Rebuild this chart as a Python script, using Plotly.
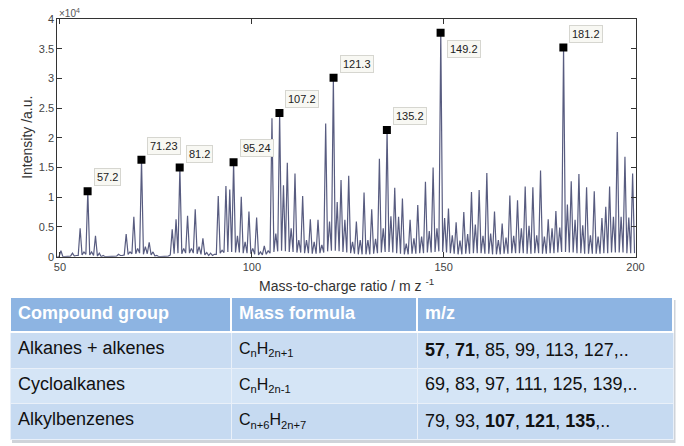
import plotly.graph_objects as go

W, H = 684, 446

# ---------------- spectrum data (intensity in units of 1e4 counts) ----------------
nominal_mz = list(range(49, 200))
peak_intensity = [
    0.00, 0.10, 0.00, 0.00, 0.06, 0.02, 0.48, 0.08, 1.10, 0.08,
    0.35, 0.06, 0.02, 0.00, 0.00, 0.01, 0.04, 0.02, 0.38, 0.08,
    0.67, 0.14, 1.63, 0.17, 0.24, 0.08, 0.02, 0.00, 0.00, 0.01,
    0.46, 0.63, 1.50, 0.14, 0.69, 0.14, 0.80, 0.17, 0.31, 0.07,
    0.06, 0.04, 1.02, 0.11, 1.19, 1.13, 1.59, 0.35, 1.01, 0.25,
    0.76, 0.14, 0.66, 0.08, 0.18, 0.10, 2.33, 0.39, 2.42, 1.20,
    1.58, 0.48, 1.40, 0.28, 1.02, 0.28, 0.63, 0.25, 0.62, 0.20,
    2.24, 0.59, 3.01, 0.92, 1.29, 0.62, 1.36, 0.25, 0.59, 0.28,
    1.08, 0.28, 0.80, 0.30, 1.65, 0.48, 2.13, 0.68, 1.16, 0.67,
    0.98, 0.22, 0.62, 0.31, 0.87, 0.34, 1.26, 0.43, 1.50, 0.48,
    3.77, 0.65, 0.81, 0.36, 0.58, 0.27, 0.75, 0.38, 1.09, 0.54,
    1.12, 0.35, 1.41, 0.39, 0.76, 0.28, 0.56, 0.32, 1.03, 0.35,
    0.95, 0.48, 1.18, 0.52, 1.17, 0.36, 1.45, 0.34, 0.63, 0.48,
    0.77, 0.49, 3.52, 0.88, 1.27, 0.62, 1.39, 0.53, 1.17, 0.36,
    1.10, 0.34, 0.65, 0.84, 1.18, 0.67, 2.10, 0.67, 1.68, 0.66,
    1.40,
]
valley_intensity = [
    0.00, 0.00, 0.00, 0.01, 0.01, 0.02, 0.03, 0.04, 0.03, 0.02,
    0.01, 0.00, 0.00, 0.00, 0.01, 0.01, 0.02, 0.03, 0.04, 0.05,
    0.05, 0.06, 0.04, 0.05, 0.03, 0.01, 0.00, 0.00, 0.01, 0.03,
    0.05, 0.06, 0.05, 0.06, 0.06, 0.06, 0.05, 0.04, 0.03, 0.02,
    0.02, 0.04, 0.06, 0.07, 0.08, 0.08, 0.07, 0.07, 0.06, 0.06,
    0.05, 0.04, 0.03, 0.03, 0.04, 0.06, 0.08, 0.09, 0.10, 0.09,
    0.08, 0.08, 0.07, 0.07, 0.06, 0.06, 0.05, 0.05, 0.06, 0.07,
    0.09, 0.10, 0.10, 0.09, 0.08, 0.07, 0.06, 0.05, 0.04, 0.04,
    0.04, 0.04, 0.05, 0.06, 0.07, 0.08, 0.08, 0.07, 0.06, 0.05,
    0.04, 0.04, 0.05, 0.05, 0.06, 0.06, 0.07, 0.07, 0.08, 0.09,
    0.08, 0.07, 0.06, 0.05, 0.04, 0.04, 0.05, 0.05, 0.06, 0.06,
    0.06, 0.05, 0.05, 0.04, 0.04, 0.04, 0.05, 0.05, 0.06, 0.06,
    0.06, 0.06, 0.05, 0.05, 0.06, 0.06, 0.05, 0.05, 0.06, 0.06,
    0.07, 0.08, 0.08, 0.07, 0.07, 0.06, 0.06, 0.05, 0.05, 0.05,
    0.05, 0.05, 0.06, 0.06, 0.07, 0.07, 0.07, 0.07, 0.06, 0.06,
    0.06,
]
mass_defect = 0.25  # observed shift of peak apex from nominal mass

labelled_mz = [57.2, 71.23, 81.2, 95.24, 107.2, 121.3, 135.2, 149.2, 181.2]
labelled_intensity = [1.10, 1.63, 1.50, 1.59, 2.42, 3.01, 2.13, 3.77, 3.52]
label_text = ["57.2", "71.23", "81.2", "95.24", "107.2", "121.3", "135.2", "149.2", "181.2"]

x_tick_values = [50, 100, 150, 200]
y_tick_values = [0, 0.5, 1, 1.5, 2, 2.5, 3, 3.5, 4]
y_tick_text = ["0", "0.5", "1", "1.5", "2", "2.5", "3", "3.5", "4"]

# ---------------- table data ----------------
table_header = ["Compound group", "Mass formula", "m/z"]
compound_groups = ["Alkanes + alkenes", "Cycloalkanes", "Alkylbenzenes"]
mass_formulas = ["C<sub>n</sub>H<sub>2n+1</sub>",
                 "C<sub>n</sub>H<sub>2n-1</sub>",
                 "C<sub>n+6</sub>H<sub>2n+7</sub>"]
mz_series = ["<b>57</b>, <b>71</b>, 85, 99, 113, 127,..",
             "69, 83, 97, 111, 125, 139,..",
             "79, 93, <b>107</b>, <b>121</b>, <b>135</b>,.."]

FONT = "Arial, 'Liberation Sans', sans-serif"

# build the spectrum line (apex, then valley between neighbouring masses)
line_x, line_y = [], []
for m, p, v in zip(nominal_mz, peak_intensity, valley_intensity):
    line_x += [m + mass_defect, m + mass_defect + 0.5]
    line_y += [p, v]

fig = go.Figure()
fig.add_trace(go.Scatter(x=line_x, y=line_y, mode="lines",
                         line=dict(color="#585c80", width=1.2),
                         hoverinfo="skip", showlegend=False))
fig.add_trace(go.Scatter(x=labelled_mz, y=labelled_intensity, mode="markers",
                         marker=dict(symbol="square", size=8, color="black"),
                         showlegend=False))

# data tip labels
label_shift = {"149.2": -16}
for mz, inten, txt in zip(labelled_mz, labelled_intensity, label_text):
    fig.add_annotation(x=mz, y=inten, text=txt, showarrow=False,
                       xanchor="left", yanchor="middle",
                       xshift=6, yshift=label_shift.get(txt, 14),
                       font=dict(family=FONT, size=11, color="#222"),
                       bgcolor="#f8f8f3", bordercolor="#d6d6d0",
                       borderwidth=1, borderpad=2)

px_l, px_r, px_t, px_b = 57.3, 635.5, 19.0, 256.7
axis_common = dict(showline=True, linecolor="#333", linewidth=1, mirror="allticks",
                   ticks="inside", ticklen=5, tickcolor="#333", showgrid=False,
                   zeroline=False, automargin=False,
                   tickfont=dict(family=FONT, size=11, color="#444"))
fig.update_xaxes(range=[49.3, 200], tickvals=x_tick_values,
                 domain=[px_l / W, px_r / W], **axis_common)
fig.update_yaxes(range=[0, 4], tickvals=y_tick_values, ticktext=y_tick_text,
                 domain=[1 - px_b / H, 1 - px_t / H], **axis_common)

# axis titles and exponent
fig.add_annotation(xref="paper", yref="paper", x=(px_l + px_r) / 2 / W, y=1 - 285 / H,
                   text="Mass-to-charge ratio / m z <sup>-1</sup>", showarrow=False,
                   xanchor="center", yanchor="middle",
                   font=dict(family=FONT, size=14, color="#333"))
fig.add_annotation(xref="paper", yref="paper", x=27 / W, y=1 - (px_t + px_b) / 2 / H,
                   text="Intensity /a.u.", showarrow=False, textangle=-90,
                   xanchor="center", yanchor="middle",
                   font=dict(family=FONT, size=14, color="#333"))
fig.add_annotation(xref="paper", yref="paper", x=px_l / W, y=1 - 13 / H,
                   text="×10<sup>4</sup>", showarrow=False,
                   xanchor="left", yanchor="middle",
                   font=dict(family=FONT, size=10, color="#555"))

# soft shadow under the table
fig.add_shape(type="rect", xref="paper", yref="paper", layer="below",
              x0=12 / W, x1=675.5 / W, y0=1 - 443 / H, y1=1 - 300 / H,
              fillcolor="#cfd3d9", line=dict(width=0))

# table
header_color = "#8db4e2"
row_colors = ["#c9dcf2", "#d5e5f6", "#c6daf1"]
fig.add_trace(go.Table(
    domain=dict(x=[10 / W, 673 / W], y=[0, 1 - 297 / H]),
    columnwidth=[221, 186, 256],
    header=dict(values=table_header,
                fill_color=header_color, align="left", height=35,
                font=dict(family=FONT, size=18, color="white", weight="bold"),
                line=dict(color="white", width=2)),
    cells=dict(values=[compound_groups, mass_formulas, mz_series],
               fill_color=[row_colors, row_colors, row_colors],
               align="left", height=34,
               font=dict(family=FONT, size=[18, 16, 18], color="#111"),
               line=dict(color="#e9f0f9", width=1)),
))

fig.update_layout(width=W, height=H, margin=dict(l=0, r=0, t=0, b=0, pad=0),
                  template="none",
                  paper_bgcolor="white", plot_bgcolor="white",
                  showlegend=False, font=dict(family=FONT))

fig.write_html("out.html")
